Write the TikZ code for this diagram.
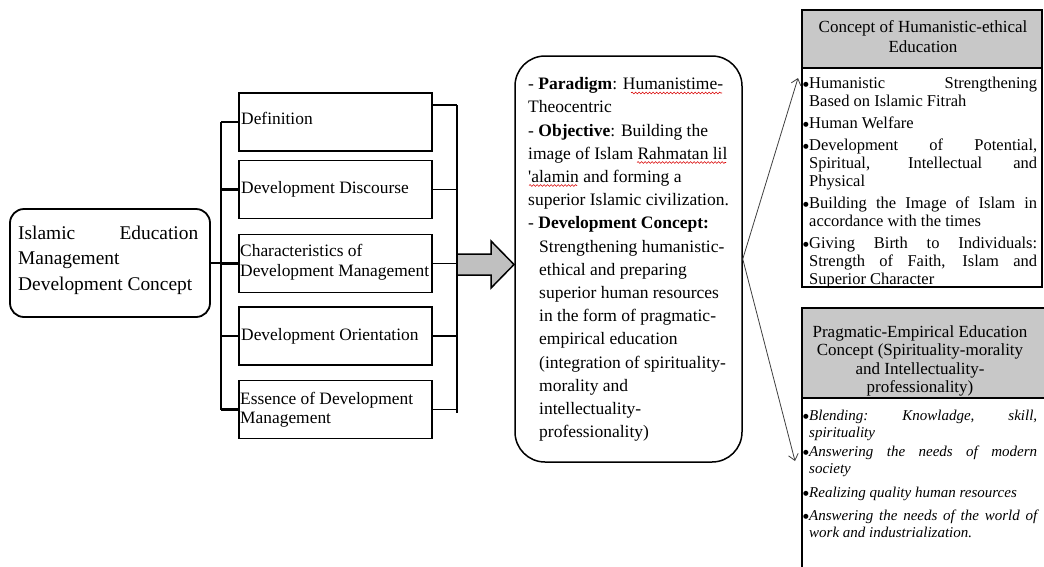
\documentclass[tikz,border=0pt]{standalone}
\usepackage{fontspec}
\setmainfont{Liberation Serif}
\newfontfamily\dejavufont{DejaVu Sans}
\usetikzlibrary{arrows.meta,decorations.pathmorphing,calc}
\definecolor{hdr}{RGB}{200,200,200}
\definecolor{arrfill}{RGB}{192,192,192}
\newcommand\bul{\makebox[6pt][l]{\raisebox{1.8pt}{\dejavufont\fontsize{6.5}{6.5}\selectfont ●}}}
\newcommand\myind{\hspace*{6pt}}
\newcommand\jline[1]{\hbox to 228pt{#1}}
\begin{document}
\begin{tikzpicture}[x=1pt,y=-1pt,
  rootbox/.style={draw, rounded corners=14pt, line width=1.8pt, minimum width=200pt, minimum height=108pt, inner sep=0pt},
  smallbox/.style={draw, line width=1.8pt, minimum width=193pt, minimum height=58pt, inner sep=0pt},
  bigbox/.style={draw, rounded corners=30pt, line width=1.5pt, minimum width=227pt, minimum height=406pt, inner sep=0pt},
  hdrbox/.style={draw, fill=hdr, line width=2pt, minimum width=240pt, inner sep=0pt},
  bodybox/.style={draw, line width=2pt, minimum width=240pt, inner sep=0pt},
  txt/.style={anchor=west, inner sep=0pt, align=left},
  brk/.style={line width=2.2pt},
  rbrk/.style={line width=1.5pt},
  bigarr/.style={draw, fill=arrfill, line width=1.5pt, line join=miter},
  thinarr/.style={draw=black!75, line width=0.8pt, -{Straight Barb[length=6pt,width=10pt]}},
  wave/.style={draw=red!85!black, line width=0.6pt, decorate, decoration={snake, segment length=3.5pt, amplitude=0.9pt}}
]
\useasboundingbox (0,0) rectangle (1044,566);
\fill[white] (0,0) rectangle (1044,566);

% left root box
\node[rootbox] (root) at (110,263) {};
\node[txt, font=\fontsize{19.4}{25.5}\selectfont] (roott) at (18,259.5)
  {\strut\hbox to 180pt{Islamic\hfill Education}\\Management\\Development Concept\strut};

% middle boxes
\node[smallbox] (m1) at (335.5,122) {};
\node[smallbox] (m2) at (335.5,189.5) {};
\node[smallbox] (m3) at (335.5,263.5) {};
\node[smallbox] (m4) at (335.5,336) {};
\node[smallbox] (m5) at (335.5,409.5) {};
\begin{scope}[every node/.style={txt, font=\fontsize{17.4}{19.5}\selectfont}]
\node (t1) at (241,121) {\strut Definition};
\node (t2) at (241,190) {\strut Development Discourse};
\node (t3) at (240,262.5) {\strut Characteristics of\\Development Management\strut};
\node (t4) at (241,337) {\strut Development Orientation};
\node (t5) at (240,410) {\strut Essence of Development\\Management\strut};
\end{scope}

% left bracket
\coordinate (lb) at (221,263);
\draw[brk] (root.east) -- (lb |- root.east);
\draw[brk] (lb |- m1.west) -- (lb |- m5.west);
\foreach \i in {1,...,5} { \draw[brk] (lb |- m\i.west) -- (m\i.west); }

% right bracket
\coordinate (rb) at (457,263);
\coordinate (r1) at ([yshift=-13pt]m1.north east);
\draw[rbrk] (r1) -- (rb |- r1);
\foreach \i in {2,...,5} { \draw[rbrk] (m\i.east) -- (rb |- m\i.east); }
\draw[rbrk] (rb |- r1) -- ([yshift=-3pt]rb |- m5.east);

% big block arrow
\draw[bigarr] (457,254) -- (491,254) -- (491,241) -- (514,264.5) -- (491,288) -- (491,275) -- (457,275) -- cycle;

% middle big box
\node[bigbox] (mid) at (628.5,259) {};
\node[txt, font=\fontsize{17.5}{23.2}\selectfont] (midt) at (528,259)
  {\strut- \textbf{Paradigm}: Humanistime-\\
   Theocentric\\
   - \textbf{Objective}: Building the\\
   image of Islam Rahmatan lil\\
   \textquotesingle alamin and forming a\\
   superior Islamic civilization.\\
   - \textbf{Development Concept:}\\
   \hspace*{11pt}Strengthening humanistic-\\
   \hspace*{11pt}ethical and preparing\\
   \hspace*{11pt}superior human resources\\
   \hspace*{11pt}in the form of pragmatic-\\
   \hspace*{11pt}empirical education\\
   \hspace*{11pt}(integration of spirituality-\\
   \hspace*{11pt}morality and\\
   \hspace*{11pt}intellectuality-\\
   \hspace*{11pt}professionality)\strut};
\draw[wave] (631,93) -- (722,93);
\draw[wave] (637,162.5) -- (726,162.5);
\draw[wave] (529,185.5) -- (577,185.5);

% right top box
\node[hdrbox, minimum height=58pt] (h1) at (922,39) {};
\node[bodybox, minimum height=219pt] (b1) at (922,177.5) {};
\node[inner sep=0pt, align=center, font=\fontsize{17}{20}\selectfont] (h1t) at (923,38)
  {\strut Concept of Humanistic-ethical\\Education\strut};
\node[txt, font=\fontsize{16.5}{18.2}\selectfont] (b1t) at (803,183)
  {\strut\bul\jline{Humanistic\hfill Strengthening}\\
   \myind Based on Islamic Fitrah\\[3.5pt]
   \bul Human Welfare\\[3.5pt]
   \bul\jline{Development of Potential,}\\
   \myind\jline{Spiritual, Intellectual and}\\
   \myind Physical\\[3.5pt]
   \bul\jline{Building the Image of Islam in}\\
   \myind accordance with the times\\[3.5pt]
   \bul\jline{Giving Birth to Individuals:}\\
   \myind\jline{Strength of Faith, Islam and}\\
   \myind Superior Character\strut};

% right bottom box (runs off the page)
\node[bodybox, minimum width=250pt, minimum height=190pt] (b2) at (927,493) {};
\node[hdrbox, minimum width=250pt, minimum height=90pt] (h2) at (927,353) {};
\node[inner sep=0pt, align=center, font=\fontsize{17}{18.5}\selectfont] (h2t) at (920,361.5)
  {\strut Pragmatic-Empirical Education\\Concept (Spirituality-morality\\and Intellectuality-\\professionality)\strut};
\node[txt, font=\itshape\fontsize{15}{17}\selectfont] (b2t) at (803,475.5)
  {\strut\bul\jline{Blending:\hfill Knowladge,\hfill skill,}\\
   \myind spirituality\\[2pt]
   \bul\jline{Answering the needs of modern}\\
   \myind society\\[7pt]
   \bul Realizing quality human resources\\[6pt]
   \bul\jline{Answering the needs of the world of}\\
   \myind work and industrialization.\strut};

% thin arrows
\coordinate (tA) at (798,78);
\coordinate (tB) at (795,461);
\draw[thinarr] (mid.east) -- (tA);
\draw[thinarr] (mid.east) -- (tB);
\end{tikzpicture}
\end{document}
